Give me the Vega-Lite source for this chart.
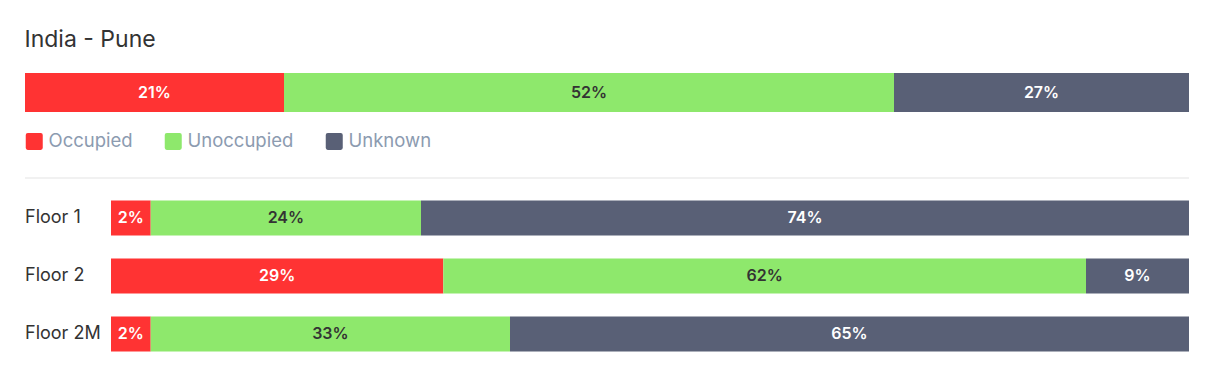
{
  "$schema": "https://vega.github.io/schema/vega-lite/v6.json",
  "padding": {"left": 24, "top": 29, "right": 24, "bottom": 20},
  "background": "white",
  "title": {"text": "India - Pune", "anchor": "start", "fontSize": 23, "font": "Inter", "fontWeight": "normal", "color": "#333333", "offset": 21},
  "datasets": {
    "total": [
      {"site": "India - Pune", "status": "Occupied", "o": 1, "v": 259, "label": "21%"},
      {"site": "India - Pune", "status": "Unoccupied", "o": 2, "v": 610, "label": "52%"},
      {"site": "India - Pune", "status": "Unknown", "o": 3, "v": 295, "label": "27%"}
    ],
    "floors": [
      {"floor": "Floor 1", "status": "Occupied", "o": 1, "v": 39.7, "label": "2%"},
      {"floor": "Floor 1", "status": "Unoccupied", "o": 2, "v": 270.3, "label": "24%"},
      {"floor": "Floor 1", "status": "Unknown", "o": 3, "v": 768, "label": "74%"},
      {"floor": "Floor 2", "status": "Occupied", "o": 1, "v": 332.3, "label": "29%"},
      {"floor": "Floor 2", "status": "Unoccupied", "o": 2, "v": 642.7, "label": "62%"},
      {"floor": "Floor 2", "status": "Unknown", "o": 3, "v": 103, "label": "9%"},
      {"floor": "Floor 2M", "status": "Occupied", "o": 1, "v": 39.7, "label": "2%"},
      {"floor": "Floor 2M", "status": "Unoccupied", "o": 2, "v": 359.3, "label": "33%"},
      {"floor": "Floor 2M", "status": "Unknown", "o": 3, "v": 679, "label": "65%"}
    ],
    "floorNames": [
      {"floor": "Floor 1"},
      {"floor": "Floor 2"},
      {"floor": "Floor 2M"}
    ],
    "sep": [{"part": "divider"}]
  },
  "config": {"view": {"stroke": null}, "font": "Inter"},
  "spacing": 26,
  "resolve": {"scale": {"color": "independent"}, "legend": {"color": "independent"}},
  "vconcat": [
    {
      "width": 1164,
      "height": 39,
      "data": {"name": "total"},
      "encoding": {
        "y": {"field": "site", "type": "nominal", "axis": null, "scale": {"paddingInner": 0, "paddingOuter": 0}}
      },
      "layer": [
        {
          "mark": {"type": "bar"},
          "encoding": {
            "x": {"field": "v", "type": "quantitative", "stack": "normalize", "axis": null},
            "color": {
              "field": "status", "type": "nominal",
              "scale": {"domain": ["Occupied", "Unoccupied", "Unknown"], "range": ["#ff3333", "#8ee86c", "#596076"]},
              "legend": {
                "orient": "bottom", "direction": "horizontal", "title": null, "offset": 20,
                "symbolType": "M-0.76,-1H0.76Q1,-1 1,-0.76V0.76Q1,1 0.76,1H-0.76Q-1,1 -1,0.76V-0.76Q-1,-1 -0.76,-1Z",
                "symbolSize": 289, "symbolStrokeWidth": 0, "symbolOpacity": 1,
                "labelFontSize": 18.5, "labelColor": "#8c9bb0", "labelFont": "Inter",
                "labelOffset": 5, "columnPadding": 31
              }
            },
            "order": {"field": "o"}
          }
        },
        {
          "mark": {"type": "text", "fontSize": 16, "fontWeight": 600},
          "encoding": {
            "x": {"field": "v", "type": "quantitative", "stack": "normalize", "bandPosition": 0.5},
            "detail": {"field": "status"},
            "order": {"field": "o"},
            "text": {"field": "label"},
            "color": {"condition": {"test": "datum.status === 'Unoccupied'", "value": "#333333"}, "value": "#ffffff"}
          }
        }
      ]
    },
    {
      "spacing": 10,
      "vconcat": [
        {
          "width": 1164,
          "height": 1,
          "data": {"name": "sep"},
          "mark": {"type": "rule", "color": "#e3e3e3", "strokeWidth": 1},
          "encoding": {"y": {"value": 0}}
        },
        {
          "spacing": 0,
          "hconcat": [
            {
              "width": 86,
              "height": 174,
              "data": {"name": "floorNames"},
              "mark": {"type": "text", "align": "left", "baseline": "middle", "fontSize": 18, "color": "#333333", "font": "Inter"},
              "encoding": {
                "y": {"field": "floor", "type": "nominal", "sort": ["Floor 1", "Floor 2", "Floor 2M"], "axis": null,
                      "scale": {"paddingInner": 0.4, "paddingOuter": 0.2}},
                "x": {"datum": 0, "type": "quantitative", "scale": {"domain": [0, 1]}, "axis": null},
                "text": {"field": "floor"}
              }
            },
            {
              "width": 1078,
              "height": 174,
              "data": {"name": "floors"},
              "encoding": {
                "y": {
                  "field": "floor", "type": "nominal", "sort": ["Floor 1", "Floor 2", "Floor 2M"],
                  "scale": {"paddingInner": 0.4, "paddingOuter": 0.2},
                  "axis": null
                }
              },
              "layer": [
                {
                  "mark": {"type": "bar"},
                  "encoding": {
                    "x": {"field": "v", "type": "quantitative", "stack": "normalize", "axis": null},
                    "color": {
                      "field": "status", "type": "nominal",
                      "scale": {"domain": ["Occupied", "Unoccupied", "Unknown"], "range": ["#ff3333", "#8ee86c", "#596076"]},
                      "legend": null
                    },
                    "order": {"field": "o"}
                  }
                },
                {
                  "mark": {"type": "text", "fontSize": 16, "fontWeight": 600},
                  "encoding": {
                    "x": {"field": "v", "type": "quantitative", "stack": "normalize", "bandPosition": 0.5},
                    "detail": {"field": "status"},
                    "order": {"field": "o"},
                    "text": {"field": "label"},
                    "color": {"condition": {"test": "datum.status === 'Unoccupied'", "value": "#333333"}, "value": "#ffffff"}
                  }
                }
              ]
            }
          ]
        }
      ]
    }
  ]
}
